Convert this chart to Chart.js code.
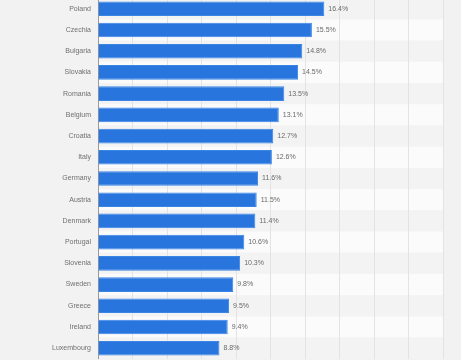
<!DOCTYPE html>
<html>
<head>
<meta charset="utf-8">
<script src="https://cdn.jsdelivr.net/npm/chart.js@4"></script>
<style>
  html, body { margin: 0; padding: 0; background: #f2f2f2; overflow: hidden; }
  #wrap { position: absolute; left: 0; top: -13px; width: 461px; height: 383px; }
</style>
</head>
<body>
<div id="wrap"><canvas id="chart"></canvas></div>
<script>
const countries = ["Poland", "Czechia", "Bulgaria", "Slovakia", "Romania", "Belgium", "Croatia", "Italy",
  "Germany", "Austria", "Denmark", "Portugal", "Slovenia", "Sweden", "Greece", "Ireland", "Luxembourg"];
const shares = [16.4, 15.5, 14.8, 14.5, 13.5, 13.1, 12.7, 12.6, 11.6, 11.5, 11.4, 10.6, 10.3, 9.8, 9.5, 9.4, 8.8];
const xMax = 25;
const xStep = 2.5;

// alternating row stripes behind the bars
const stripes = {
  id: "stripes",
  beforeDraw(chart) {
    const { ctx, chartArea, scales } = chart;
    const y = scales.y;
    const half = (y.getPixelForValue(1) - y.getPixelForValue(0)) / 2;
    ctx.save();
    countries.forEach((c, i) => {
      const mid = y.getPixelForValue(i);
      ctx.fillStyle = i % 2 === 0 ? "#f3f3f3" : "#fbfbfb";
      ctx.fillRect(chartArea.left, mid - half, chartArea.right - chartArea.left, half * 2);
    });
    ctx.restore();
  }
};

// value labels at the end of each bar
const valueLabels = {
  id: "valueLabels",
  afterDatasetsDraw(chart) {
    const { ctx } = chart;
    const meta = chart.getDatasetMeta(0);
    ctx.save();
    ctx.font = "7px 'Liberation Sans', Arial, sans-serif";
    ctx.fillStyle = "#6a6a6a";
    ctx.textBaseline = "middle";
    meta.data.forEach((bar, i) => {
      ctx.fillText(shares[i].toFixed(1) + "%", bar.x + 4, bar.y);
    });
    ctx.restore();
  }
};

new Chart(document.getElementById("chart"), {
  type: "bar",
  data: {
    labels: countries,
    datasets: [{
      data: shares,
      backgroundColor: "#2876dd",
      borderColor: "#3a84e6",
      borderWidth: 1,
      borderSkipped: "start",
      barPercentage: 0.69,
      categoryPercentage: 1
    }]
  },
  options: {
    indexAxis: "y",
    responsive: true,
    maintainAspectRatio: false,
    animation: false,
    layout: { padding: { left: 0, right: 18, top: 0, bottom: 0 } },
    plugins: { legend: { display: false }, tooltip: { enabled: false } },
    scales: {
      x: {
        min: 0,
        max: xMax,
        ticks: { display: false, stepSize: xStep },
        grid: { color: "#e3e3e3", lineWidth: 1, drawTicks: false },
        border: { display: false }
      },
      y: {
        afterFit(scale) { scale.width = 98; },
        ticks: {
          color: "#707070",
          padding: 7,
          font: { family: "'Liberation Sans', Arial, sans-serif", size: 7 }
        },
        grid: { display: false, drawTicks: false },
        border: { display: true, color: "#9a9a9a", width: 1 }
      }
    }
  },
  plugins: [stripes, valueLabels]
});
</script>
</body>
</html>
